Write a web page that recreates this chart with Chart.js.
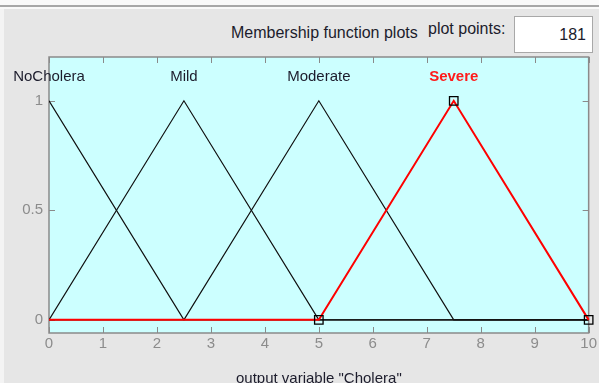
<!DOCTYPE html>
<html>
<head>
<meta charset="utf-8">
<script src="https://cdn.jsdelivr.net/npm/chart.js@4.4.1/dist/chart.umd.min.js"></script>
<style>
  html, body { margin: 0; padding: 0; width: 599px; height: 383px; overflow: hidden; background: #e6e6e6; font-family: "Liberation Sans", Arial, sans-serif; }
  #topline { position: absolute; left: 0; top: 0; width: 599px; height: 5px; background: #fafafa; border-bottom: 2px solid #a8a8a8; }
  #topline2 { position: absolute; left: 0; top: 7px; width: 599px; height: 2px; background: #fafafa; }
  #leftline { position: absolute; left: 0; top: 9px; width: 4px; height: 374px; background: #f4f4f4; }
  #title { position: absolute; left: 231px; top: 24px; font-size: 16px; color: #1c1c2c; white-space: nowrap; }
  #pp { position: absolute; left: 428px; top: 20px; font-size: 16px; color: #1c1c2c; white-space: nowrap; }
  #box { position: absolute; left: 514px; top: 16px; width: 77px; height: 35px; background: #fff; border: 1px solid #a8a8a8; }
  #box span { position: absolute; right: 6px; top: 9px; font-size: 16px; color: #1c1c2c; }
  canvas { position: absolute; left: 0; top: 0; }
</style>
</head>
<body>
<div id="topline"></div>
<div id="topline2"></div>
<div id="leftline"></div>
<div id="title">Membership function plots</div>
<div id="pp">plot points:</div>
<div id="box"><span>181</span></div>
<canvas id="chart" width="599" height="390"></canvas>
<script>
// membership functions of output variable "Cholera"
const categories = ['NoCholera', 'Mild', 'Moderate', 'Severe'];
const noCholeraX = [0, 2.5, 10];
const noCholeraY = [1, 0, 0];
const mildX = [0, 2.5, 5, 10];
const mildY = [0, 1, 0, 0];
const moderateX = [0, 2.5, 5, 7.5, 10];
const moderateY = [0, 0, 1, 0, 0];
const severeX = [0, 5, 7.5, 10];
const severeY = [0, 0, 1, 0];
const peaks = [0, 2.5, 5, 7.5];
const xTicks = [0, 1, 2, 3, 4, 5, 6, 7, 8, 9, 10];
const yTicks = [0, 0.5, 1];

const pts = (xs, ys) => xs.map((x, i) => ({ x: x, y: ys[i] }));

const frame = {
  id: 'frame',
  beforeDatasetsDraw(chart) {
    const { ctx, chartArea: a, scales } = chart;
    ctx.save();
    ctx.fillStyle = '#ccffff';
    ctx.fillRect(a.left, a.top, a.right - a.left, a.bottom - a.top);
    ctx.strokeStyle = '#8a8a8a';
    ctx.lineWidth = 1.5;
    ctx.strokeRect(a.left, a.top, a.right - a.left, a.bottom - a.top);
    ctx.lineWidth = 1;
    ctx.beginPath();
    xTicks.forEach(v => {
      const px = Math.round(scales.x.getPixelForValue(v)) + 0.5;
      ctx.moveTo(px, a.bottom); ctx.lineTo(px, a.bottom - 6);
      ctx.moveTo(px, a.top); ctx.lineTo(px, a.top + 6);
    });
    yTicks.forEach(v => {
      const py = Math.round(scales.y.getPixelForValue(v)) + 0.5;
      ctx.moveTo(a.left, py); ctx.lineTo(a.left + 6, py);
      ctx.moveTo(a.right, py); ctx.lineTo(a.right - 6, py);
    });
    ctx.stroke();
    ctx.restore();
  },
  afterDatasetsDraw(chart) {
    const { ctx, scales } = chart;
    ctx.save();
    ctx.textAlign = 'center';
    ctx.textBaseline = 'middle';
    categories.forEach((name, i) => {
      const px = scales.x.getPixelForValue(peaks[i]);
      const py = scales.y.getPixelForValue(1) - 24;
      if (name === 'Severe') {
        ctx.font = 'bold 15px "Liberation Sans", Arial, sans-serif';
        ctx.fillStyle = '#ff1a1a';
      } else {
        ctx.font = '15px "Liberation Sans", Arial, sans-serif';
        ctx.fillStyle = '#1c1c2c';
      }
      ctx.fillText(name, px, py);
    });
    ctx.restore();
  }
};

new Chart(document.getElementById('chart'), {
  type: 'line',
  data: {
    datasets: [
      { label: 'Severe', data: pts(severeX, severeY), borderColor: '#ff0000', borderWidth: 2,
        pointStyle: 'rect', pointRadius: [0, 6, 6, 6], pointBorderColor: '#000',
        pointBackgroundColor: 'rgba(0,0,0,0)', pointBorderWidth: 1.3, clip: false, order: 0 },
      { label: 'Moderate', data: pts(moderateX, moderateY), borderColor: '#111', borderWidth: 1.2, pointRadius: 0, order: 1 },
      { label: 'Mild', data: pts(mildX, mildY), borderColor: '#111', borderWidth: 1.2, pointRadius: 0, order: 1 },
      { label: 'NoCholera', data: pts(noCholeraX, noCholeraY), borderColor: '#111', borderWidth: 1.2, pointRadius: 0, order: 1 }
    ]
  },
  options: {
    responsive: false,
    animation: false,
    layout: { padding: { top: 57, right: 4, left: 0, bottom: 0 } },
    plugins: { legend: { display: false }, tooltip: { enabled: false } },
    elements: { line: { tension: 0 } },
    scales: {
      x: {
        type: 'linear', min: 0, max: 10,
        afterBuildTicks: s => { s.ticks = xTicks.map(v => ({ value: v })); },
        afterFit: s => { s.height = 57; },
        grid: { display: false, drawTicks: false },
        border: { display: false },
        ticks: { color: '#8c8c8c', padding: 2, maxRotation: 0, autoSkip: false,
          font: { size: 15, family: '"Liberation Sans", Arial, sans-serif' } },
        title: { display: true, text: 'output variable "Cholera"', color: '#1c1c2c',
          padding: { top: 0, bottom: 2 },
          font: { size: 15, family: '"Liberation Sans", Arial, sans-serif' } }
      },
      y: {
        type: 'linear', min: -0.06, max: 1.2,
        afterBuildTicks: s => { s.ticks = yTicks.map(v => ({ value: v })); },
        afterFit: s => { s.width = 49; },
        grid: { display: false, drawTicks: false },
        border: { display: false },
        ticks: { color: '#8c8c8c', padding: 6, callback: v => String(v),
          font: { size: 15, family: '"Liberation Sans", Arial, sans-serif' } }
      }
    }
  },
  plugins: [frame]
});
</script>
</body>
</html>
